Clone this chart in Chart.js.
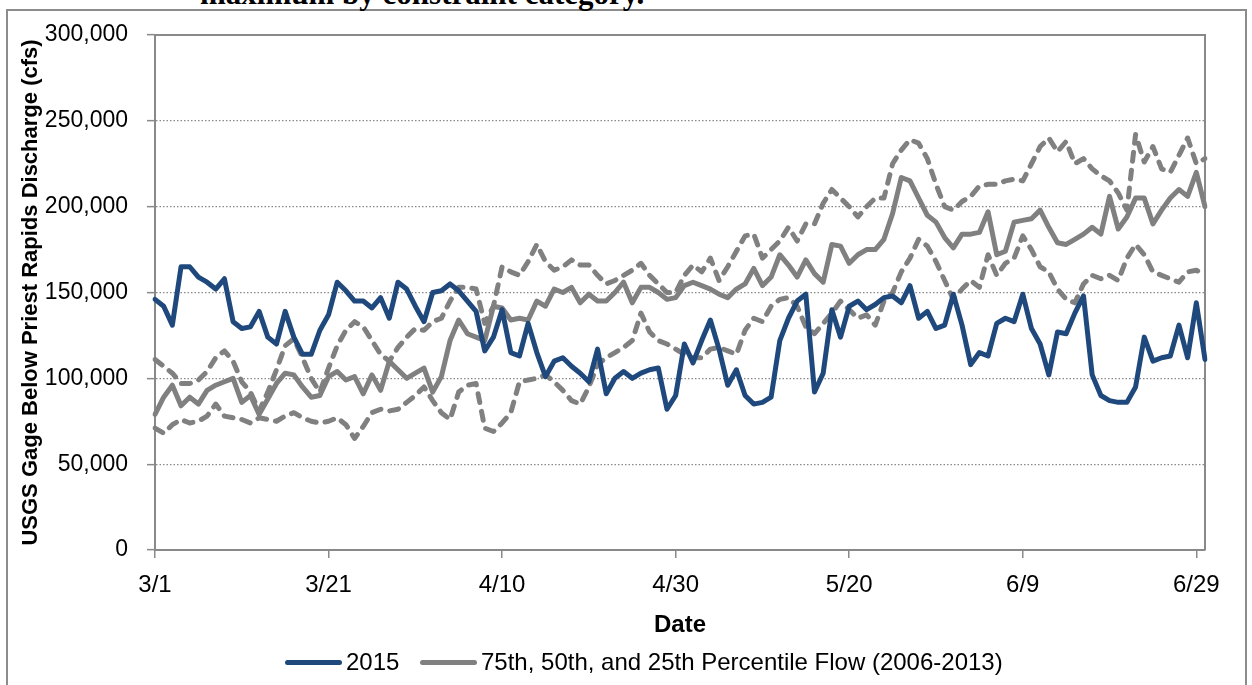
<!DOCTYPE html>
<html>
<head>
<meta charset="utf-8">
<script src="https://cdn.jsdelivr.net/npm/chart.js@4.4.1/dist/chart.umd.min.js"></script>
<style>
html,body{margin:0;padding:0;background:#fff;overflow:hidden;}
#wrap{position:relative;width:1252px;height:685px;overflow:hidden;font-family:'Liberation Sans',Arial,sans-serif;background:#fff;}
#frame{position:absolute;left:6px;top:9px;width:1241px;height:720px;border:2px solid #8c8c8c;box-sizing:border-box;}
#cap{position:absolute;left:200px;top:-22px;font:bold 31px/31px 'Liberation Serif','Times New Roman',serif;white-space:nowrap;color:#000;}
#c{position:absolute;left:0;top:0;}
.li{position:absolute;top:649px;height:26px;display:flex;align-items:center;font-size:24px;color:#000;white-space:nowrap;}
.sw{display:inline-block;width:57px;height:5px;border-radius:3px;margin-right:4px;}
</style>
</head>
<body>
<div id="wrap">
  <div id="frame"></div>
  <div id="cap">maximum by constraint category.</div>
  <canvas id="c" width="1252" height="685"></canvas>
  <div id="legend"></div>
</div>
<script>
// ---- data ----
const months = [[3, 31], [4, 30], [5, 31], [6, 30]];
const dates = [];
for (const [m, n] of months) for (let d = 1; d <= n; d++) dates.push(m + '/' + d);
const tickEvery = 20;
const tickLabels = ['3/1', '3/21', '4/10', '4/30', '5/20', '6/9', '6/29'];

const seriesNames = ['2015', '75th, 50th, and 25th Percentile Flow (2006-2013)'];

const flow2015 = [146000,142000,131000,165000,165000,159000,156000,152000,158000,133000,
129000,130000,139000,124000,120000,139000,124000,114000,114000,128000,
137000,156000,151000,145000,145000,141000,147000,135000,156000,152000,
142000,133000,150000,151000,155000,151000,145000,139000,116000,124000,
140000,115000,113000,132000,115000,101000,110000,112000,107000,103000,
98000,117000,91000,100000,104000,100000,103000,105000,106000,82000,
90000,120000,109000,122000,134000,117000,96000,105000,90000,85000,
86000,89000,122000,135000,145000,149000,92000,103000,140000,124000,
142000,145000,140000,143000,147000,148000,144000,154000,135000,139000,
129000,131000,149000,131000,108000,115000,113000,132000,135000,133000,
149000,129000,120000,102000,127000,126000,138000,148000,102000,90000,
87000,86000,86000,95000,124000,110000,112000,113000,131000,112000,
144000,111000];

const pct75 = [111000,107000,103000,97000,97000,99000,104000,112000,116000,110000,
98000,92000,81000,92000,105000,119000,123000,112000,100000,92000,
106000,119000,128000,133000,130000,122000,114000,110000,118000,124000,
129000,128000,133000,135000,145000,153000,153000,152000,132000,142000,
165000,162000,160000,168000,178000,168000,163000,165000,169000,166000,
166000,160000,155000,157000,160000,163000,167000,160000,155000,150000,
150000,160000,166000,162000,170000,157000,165000,174000,183000,184000,
170000,175000,180000,188000,180000,190000,190000,202000,210000,205000,
200000,194000,200000,205000,205000,225000,233000,239000,237000,228000,
213000,200000,198000,203000,206000,212000,213000,213000,215000,216000,
215000,225000,235000,240000,232000,238000,225000,228000,222000,218000,
215000,208000,198000,242000,226000,235000,222000,220000,230000,240000,
225000,228000];

const pct50 = [79000,89000,96000,84000,89000,85000,93000,96000,98000,100000,
86000,90000,79000,88000,97000,103000,102000,95000,89000,90000,
101000,104000,99000,101000,91000,102000,93000,110000,105000,100000,
103000,106000,92000,101000,122000,134000,126000,124000,122000,142000,
141000,134000,135000,134000,145000,142000,152000,150000,153000,144000,
149000,145000,145000,150000,156000,144000,153000,153000,150000,146000,
147000,154000,156000,154000,152000,149000,147000,152000,155000,164000,
154000,159000,172000,166000,159000,169000,161000,156000,178000,177000,
167000,172000,175000,175000,181000,196000,217000,215000,205000,195000,
191000,182000,176000,184000,184000,185000,197000,172000,174000,191000,
192000,193000,198000,188000,179000,178000,181000,184000,188000,184000,
206000,187000,194000,205000,205000,190000,198000,205000,210000,206000,
220000,200000];

const pct25 = [71000,68000,73000,76000,74000,75000,78000,85000,78000,77000,
76000,74000,77000,76000,75000,78000,80000,77000,75000,74000,
75000,77000,73000,65000,72000,80000,82000,81000,82000,86000,
90000,95000,87000,80000,76000,92000,96000,97000,71000,69000,
74000,80000,98000,99000,100000,102000,98000,93000,87000,85000,
95000,108000,112000,115000,118000,122000,138000,127000,122000,120000,
117000,114000,112000,112000,117000,118000,116000,114000,128000,135000,
133000,142000,146000,147000,142000,130000,126000,132000,138000,145000,
140000,135000,137000,131000,145000,150000,162000,170000,181000,177000,
168000,157000,146000,152000,157000,153000,172000,160000,167000,170000,
183000,175000,165000,162000,152000,146000,144000,155000,160000,158000,
160000,157000,170000,178000,172000,162000,160000,158000,156000,162000,
163000,160000];

// ---- styles ----
const BLUE = '#1F497D';
const GRAY = '#808080';
const FONT = "'Liberation Sans', Arial, sans-serif";
const AXIS = '#898989';

const plotBorder = {
  id: 'plotBorder',
  beforeDatasetsDraw(chart) {
    const {ctx, chartArea: {left, top, right, bottom}} = chart;
    ctx.save();
    ctx.strokeStyle = AXIS;
    ctx.lineWidth = 2;
    ctx.beginPath();
    ctx.moveTo(left, top);
    ctx.lineTo(right, top);
    ctx.lineTo(right, bottom);
    ctx.stroke();
    ctx.restore();
  }
};

const pctStyle = {
  borderColor: GRAY, backgroundColor: GRAY, borderWidth: 5,
  pointRadius: 0, tension: 0, borderCapStyle: 'round', borderJoinStyle: 'round', fill: false
};

const chart = new Chart(document.getElementById('c'), {
  type: 'line',
  data: {
    labels: dates,
    datasets: [
      { label: seriesNames[0], data: flow2015, borderColor: BLUE, backgroundColor: BLUE, borderWidth: 5,
        pointRadius: 0, tension: 0, borderCapStyle: 'round', borderJoinStyle: 'round', fill: false },
      Object.assign({ label: '75th', data: pct75, borderDash: [9, 9] }, pctStyle),
      Object.assign({ label: seriesNames[1], data: pct50 }, pctStyle),
      Object.assign({ label: '25th', data: pct25, borderDash: [9, 9] }, pctStyle)
    ]
  },
  options: {
    responsive: false,
    animation: false,
    layout: { padding: { top: 35, right: 47, bottom: 0, left: 0 } },
    plugins: { legend: { display: false }, tooltip: { enabled: false }, title: { display: false } },
    scales: {
      x: {
        type: 'category',
        offset: false,
        grid: { drawOnChartArea: false, drawTicks: true, tickLength: 8, color: AXIS, lineWidth: 1.5 },
        border: { color: AXIS, width: 2 },
        ticks: {
          autoSkip: false, maxRotation: 0, minRotation: 0, color: '#000', padding: 13,
          font: { family: FONT, size: 24 },
          callback: function (value) { return tickLabels[value / tickEvery]; }
        },
        afterBuildTicks: (s) => { s.ticks = s.ticks.filter(t => t.value % tickEvery === 0); },
        afterFit: (s) => { s.height = 135; },
        title: { display: true, text: 'Date', color: '#000', font: { family: FONT, size: 24, weight: 'bold' },
                 padding: { top: 0, bottom: 45 } }
      },
      y: {
        min: 0, max: 300000,
        ticks: { stepSize: 50000, color: '#000', padding: 19, font: { family: FONT, size: 23 },
                 callback: (v) => v.toLocaleString('en-US') },
        grid: { color: '#8a8a8a', lineWidth: 1.3, tickLength: 8, tickColor: AXIS, tickWidth: 1.5 },
        border: { color: AXIS, width: 2, dash: [1.5, 2] },
        afterFit: (s) => { s.width = 155; },
        title: { display: true, text: 'USGS Gage Below Priest Rapids Discharge (cfs)', color: '#000',
                 font: { family: FONT, size: 22, weight: 'bold' }, padding: { top: 18, bottom: 0 } }
      }
    }
  },
  plugins: [plotBorder]
});

// ---- legend (HTML, built from the series names) ----
const legendDefs = [
  { text: seriesNames[0], color: BLUE, left: 285 },
  { text: seriesNames[1], color: GRAY, left: 420 }
];
const lg = document.getElementById('legend');
for (const d of legendDefs) {
  const el = document.createElement('div');
  el.className = 'li';
  el.style.left = d.left + 'px';
  const sw = document.createElement('span');
  sw.className = 'sw';
  sw.style.background = d.color;
  el.appendChild(sw);
  el.appendChild(document.createTextNode(d.text));
  lg.appendChild(el);
}
</script>
</body>
</html>
